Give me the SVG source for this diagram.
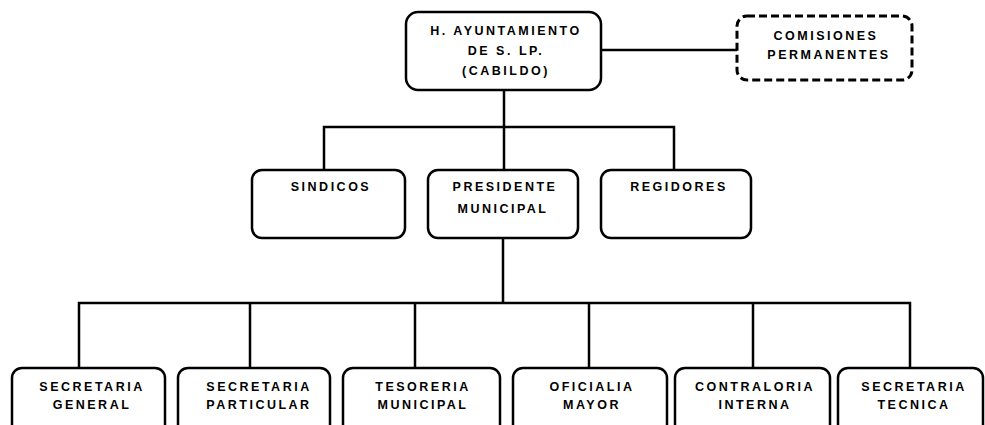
<svg xmlns="http://www.w3.org/2000/svg" width="985" height="425" viewBox="0 0 985 425">
<style>
.box{fill:#fff;stroke:#000;stroke-width:2.5}
.dash{fill:#fff;stroke:#000;stroke-width:3;stroke-dasharray:8 4}
.ln{fill:none;stroke:#000;stroke-width:2.5}
text{font-family:"Liberation Sans",Arial,sans-serif;font-weight:bold;font-size:12.5px;letter-spacing:2.5px;text-anchor:middle;fill:#000}
</style>
<rect width="985" height="425" fill="#fff"/>
<g id="connectors">
<line class="ln" x1="601" y1="50" x2="738" y2="50"/>
<line class="ln" x1="504" y1="90" x2="504" y2="170"/>
<polyline class="ln" points="324,170 324,127 674,127 674,170"/>
<line class="ln" x1="503" y1="238" x2="503" y2="303"/>
<polyline class="ln" points="79,368 79,303 910,303 910,368"/>
<line class="ln" x1="250" y1="303" x2="250" y2="368"/>
<line class="ln" x1="415" y1="303" x2="415" y2="368"/>
<line class="ln" x1="589" y1="303" x2="589" y2="368"/>
<line class="ln" x1="753" y1="303" x2="753" y2="368"/>
</g>
<g id="ayuntamiento">
<rect class="box" x="406" y="12" width="195" height="78" rx="12"/>
<text x="506" y="35">H. AYUNTAMIENTO</text>
<text x="506" y="55">DE S. LP.</text>
<text x="506" y="75">(CABILDO)</text>
</g>
<g id="comisiones">
<rect class="dash" x="737" y="16" width="175" height="64" rx="10"/>
<text x="826" y="40">COMISIONES</text>
<text x="829" y="59">PERMANENTES</text>
</g>
<g id="sindicos">
<rect class="box" x="252" y="170" width="153" height="68" rx="10"/>
<text x="331" y="191">SINDICOS</text>
</g>
<g id="presidente">
<rect class="box" x="428" y="170" width="150" height="68" rx="10"/>
<text x="505" y="191">PRESIDENTE</text>
<text x="503" y="213">MUNICIPAL</text>
</g>
<g id="regidores">
<rect class="box" x="601" y="170" width="150" height="68" rx="10"/>
<text x="679" y="191">REGIDORES</text>
</g>
<g id="secretaria-general">
<rect class="box" x="12" y="368" width="153" height="70" rx="10"/>
<text x="92" y="391">SECRETARIA</text>
<text x="92" y="409">GENERAL</text>
</g>
<g id="secretaria-particular">
<rect class="box" x="178" y="368" width="152" height="70" rx="10"/>
<text x="259" y="391">SECRETARIA</text>
<text x="259" y="409">PARTICULAR</text>
</g>
<g id="tesoreria">
<rect class="box" x="343" y="368" width="157" height="70" rx="10"/>
<text x="423" y="391">TESORERIA</text>
<text x="423" y="409">MUNICIPAL</text>
</g>
<g id="oficialia">
<rect class="box" x="513" y="368" width="154" height="70" rx="10"/>
<text x="592" y="391">OFICIALIA</text>
<text x="592" y="409">MAYOR</text>
</g>
<g id="contraloria">
<rect class="box" x="675" y="368" width="155" height="70" rx="10"/>
<text x="755" y="391">CONTRALORIA</text>
<text x="755" y="409">INTERNA</text>
</g>
<g id="secretaria-tecnica">
<rect class="box" x="838" y="368" width="145" height="70" rx="10"/>
<text x="914" y="391">SECRETARIA</text>
<text x="914" y="409">TECNICA</text>
</g>
</svg>
